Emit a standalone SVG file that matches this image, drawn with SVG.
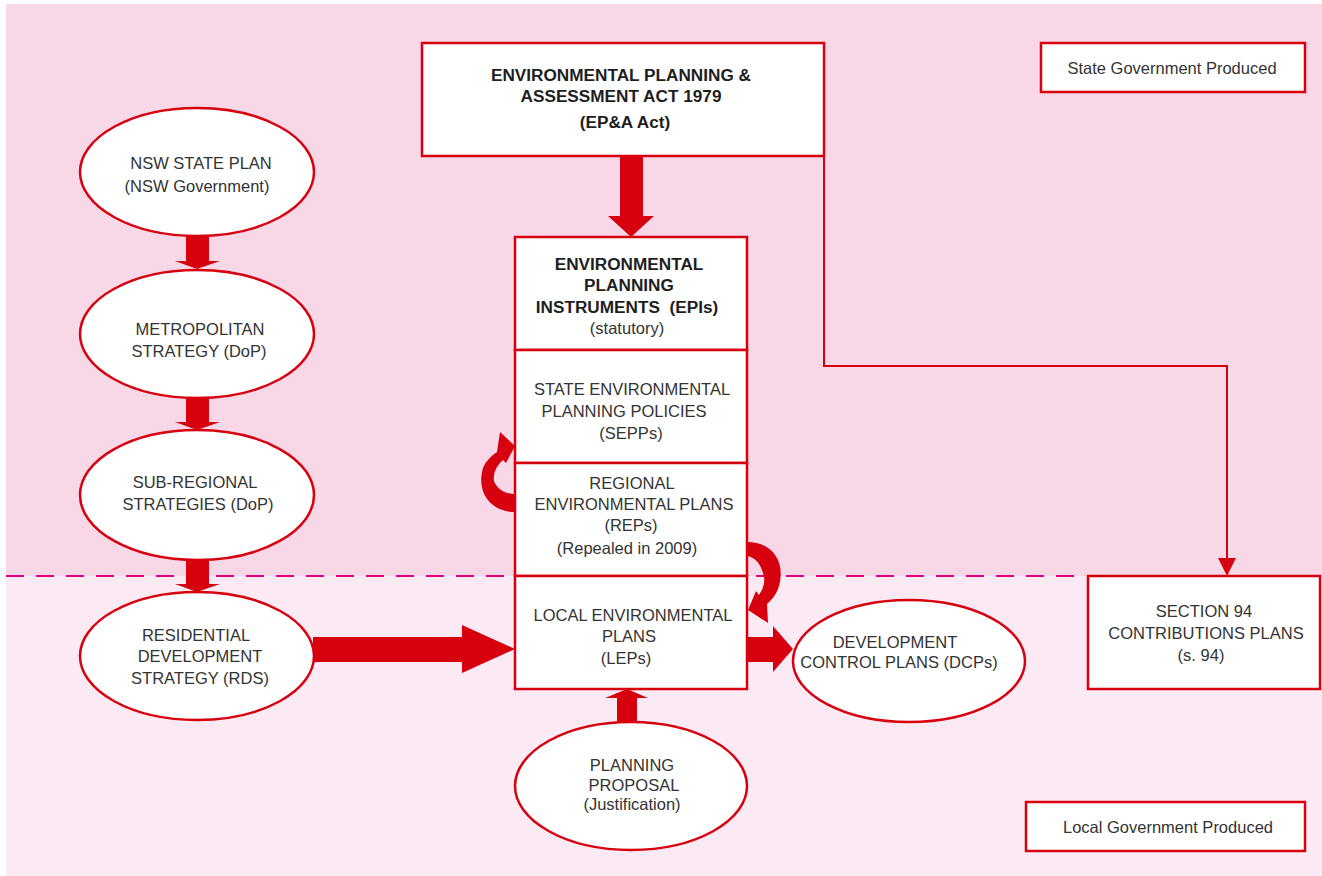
<svg xmlns="http://www.w3.org/2000/svg" width="1322" height="876" viewBox="0 0 1322 876">
<defs>
<style>
.box{fill:#fff;stroke:#d7000f;stroke-width:2.5}
.t{font-family:"Liberation Sans",Arial,sans-serif;font-size:16.5px;fill:#333;text-anchor:middle}
.b{font-family:"Liberation Sans",Arial,sans-serif;font-size:17.2px;font-weight:bold;fill:#1e1e1e;text-anchor:middle}
.red{fill:#d7000f}
.ln{fill:none;stroke:#d7000f;stroke-width:2}
</style>
</defs>
<rect x="0" y="0" width="1322" height="876" fill="#fff"/>
<rect x="6" y="4" width="1316" height="572" fill="#f8d8e7"/>
<rect x="6" y="576" width="1316" height="300" fill="#fbeaf3"/>
<line x1="6" y1="576" x2="1086" y2="576" stroke="#e4007c" stroke-width="2" stroke-dasharray="18 12"/>

<g id="connectors">
<polyline class="ln" points="824,156 824,366 1227,366 1227,560"/>
<path class="red" d="M1218,558 L1236,558 L1227,576 Z"/>
<path class="red" d="M620,156 L643,156 L643,216 L654,216 L631,237 L608,216 L620,216 Z"/>
<path class="red" d="M186,236 L209,236 L209,261 L220,261 L197,269 L175,261 L186,261 Z"/>
<path class="red" d="M186,398 L209,398 L209,422 L220,422 L197,430 L175,422 L186,422 Z"/>
<path class="red" d="M186,560 L209,560 L209,584 L220,584 L197,592 L175,584 L186,584 Z"/>
<path class="red" d="M313,637 L462,637 L462,625 L515,649 L462,673 L462,662 L313,662 Z"/>
<path class="red" d="M747,637 L773,637 L773,626 L793,649 L773,672 L773,662 L747,662 Z"/>
<path class="red" d="M617,722 L617,698 L605,698 L627,689 L648,698 L637,698 L637,722 Z"/>
<path class="red" d="M515,512 C490,512 476,492 483,468 C486,461 491,456 497,452 L500,432 L515,446 L506,463 L503,460 C496,466 493,474 494,481 C497,489 505,494 515,494 Z"/>
<path class="red" d="M747,542 C772,542 784,560 780,582 C778,592 773,599 767,604 L768,623 L748,610 L756,591 L759,595 C763,589 765,583 764,577 C762,566 756,557 747,556 Z"/>
</g>

<g id="epa">
<rect class="box" x="422" y="43" width="402" height="113"/>
<text class="b" x="621" y="81">ENVIRONMENTAL PLANNING &amp;</text>
<text class="b" x="621" y="102">ASSESSMENT ACT 1979</text>
<text class="b" x="625" y="128">(EP&amp;A Act)</text>
</g>

<g id="epis">
<rect class="box" x="515" y="237" width="232" height="113"/>
<text class="b" x="629" y="270">ENVIRONMENTAL</text>
<text class="b" x="629" y="291">PLANNING</text>
<text class="b" x="627" y="313">INSTRUMENTS&#160; (EPIs)</text>
<text class="t" x="627" y="334">(statutory)</text>
</g>
<g id="sepps">
<rect class="box" x="515" y="350" width="232" height="113"/>
<text class="t" x="632" y="395">STATE ENVIRONMENTAL</text>
<text class="t" x="624" y="417">PLANNING POLICIES</text>
<text class="t" x="631" y="439">(SEPPs)</text>
</g>
<g id="reps">
<rect class="box" x="515" y="463" width="232" height="113"/>
<text class="t" x="632" y="489">REGIONAL</text>
<text class="t" x="634" y="510">ENVIRONMENTAL PLANS</text>
<text class="t" x="631" y="531">(REPs)</text>
<text class="t" x="627" y="554">(Repealed in 2009)</text>
</g>
<g id="leps">
<rect class="box" x="515" y="576" width="232" height="113"/>
<text class="t" x="633" y="621">LOCAL ENVIRONMENTAL</text>
<text class="t" x="629" y="642">PLANS</text>
<text class="t" x="626" y="664">(LEPs)</text>
</g>

<g id="nsw">
<ellipse class="box" cx="197" cy="172" rx="117" ry="64"/>
<text class="t" x="201" y="169">NSW STATE PLAN</text>
<text class="t" x="197" y="192">(NSW Government)</text>
</g>
<g id="metro">
<ellipse class="box" cx="197" cy="334" rx="117" ry="64"/>
<text class="t" x="200" y="335">METROPOLITAN</text>
<text class="t" x="199" y="357">STRATEGY (DoP)</text>
</g>
<g id="subreg">
<ellipse class="box" cx="197" cy="495" rx="117" ry="65"/>
<text class="t" x="195" y="488">SUB-REGIONAL</text>
<text class="t" x="198" y="510">STRATEGIES (DoP)</text>
</g>
<g id="rds">
<ellipse class="box" cx="197" cy="656" rx="117" ry="64"/>
<text class="t" x="196" y="641">RESIDENTIAL</text>
<text class="t" x="200" y="662">DEVELOPMENT</text>
<text class="t" x="200" y="684">STRATEGY (RDS)</text>
</g>
<g id="dcps">
<ellipse class="box" cx="909" cy="661" rx="116" ry="61"/>
<text class="t" x="895" y="648">DEVELOPMENT</text>
<text class="t" x="899" y="668">CONTROL PLANS (DCPs)</text>
</g>
<g id="pp">
<ellipse class="box" cx="631" cy="786" rx="116" ry="64"/>
<text class="t" x="632" y="771">PLANNING</text>
<text class="t" x="634" y="791">PROPOSAL</text>
<text class="t" x="632" y="810">(Justification)</text>
</g>
<g id="s94">
<rect class="box" x="1088" y="576" width="232" height="113"/>
<text class="t" x="1204" y="617">SECTION 94</text>
<text class="t" x="1206" y="639">CONTRIBUTIONS PLANS</text>
<text class="t" x="1201" y="661">(s. 94)</text>
</g>
<g id="stategov">
<rect class="box" x="1041" y="43" width="264" height="49"/>
<text class="t" x="1172" y="74">State Government Produced</text>
</g>
<g id="localgov">
<rect class="box" x="1026" y="802" width="279" height="49"/>
<text class="t" x="1168" y="833">Local Government Produced</text>
</g>
</svg>
